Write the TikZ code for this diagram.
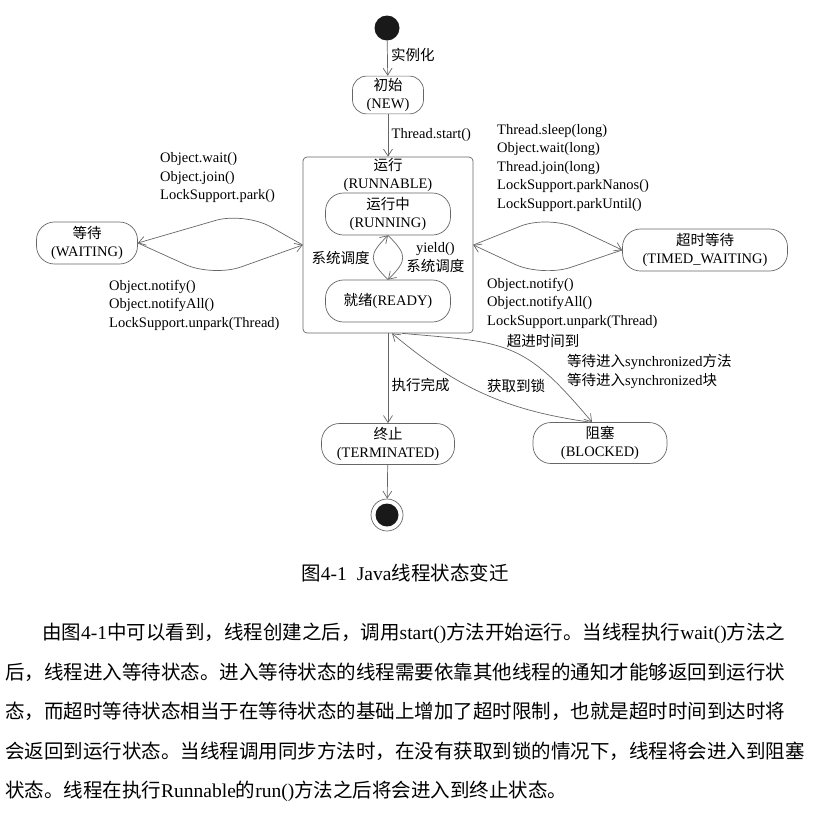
\documentclass[tikz,border=0pt]{standalone}
\usepackage{fontspec}
\setmainfont{Liberation Serif}
\newfontfamily\cjk{Noto Sans CJK SC}
\newcommand\zh[1]{{\cjk #1}}
\newcommand\dfont{\fontsize{14.5}{18.5}\selectfont}
\newcommand\pline{\XeTeXlinebreaklocale "zh"\XeTeXlinebreakskip=0pt plus 1pt minus 0.3pt\parfillskip=0pt\relax}
\usetikzlibrary{arrows.meta,positioning}

\begin{document}
\begin{tikzpicture}[
	x = 1pt, y = 1pt,
	> = {Straight Barb[length=7pt,width=9pt]},
	line/.style = {draw=black!60, line width=0.7pt},
	every node/.style = {font=\dfont},
	state/.style = {line, rounded corners=18pt, align=center, minimum height=42pt, inner sep=2pt},
	lbl/.style = {align=left, inner sep=0pt},
	para/.style = {anchor=west, inner sep=0pt, font=\fontsize{19.5}{24}\selectfont}
	]
	\useasboundingbox (0,0) rectangle (813,-825);
	% states
	\node[circle, fill=black!90, inner sep=0pt, minimum size=25pt] (init) at (387,-28) {};
	\node[state, minimum width=71pt, minimum height=36pt, rounded corners=14pt] (new) at (388,-95) {\zh{初始}\\(NEW)};
	\node[line, rounded corners=4pt, minimum width=170pt, minimum height=176pt] (run) at (388,-245) {};
	\node[below=0pt of run.north, align=center, inner sep=1pt] (runtitle) {\zh{运行}\\(RUNNABLE)};
	\node[state, minimum width=125pt] (running) at (388,-214) {\zh{运行中}\\(RUNNING)};
	\node[state, minimum width=125pt] (ready) at (388,-301) {\zh{就绪}(READY)};
	\node[state, minimum width=101pt] (waiting) at (87,-243) {\zh{等待}\\(WAITING)};
	\node[state, minimum width=165pt] (timed) at (705,-250) {\zh{超时等待}\\(TIMED\_WAITING)};
	\node[state, minimum width=133pt, minimum height=41pt] (term) at (388,-444) {\zh{终止}\\(TERMINATED)};
	\node[state, minimum width=134pt, minimum height=41pt] (blocked) at (600,-443) {\zh{阻塞}\\(BLOCKED)};
	\node[circle, line, inner sep=0pt, minimum size=32pt] (final) at (387,-515) {};
	\node[circle, fill=black!90, inner sep=0pt, minimum size=23pt] (finaldot) at (final) {};

	% transitions
	\draw[line, ->] (init) -- node[right, pos=.4] (lnew) {\zh{实例化}} (new);
	\draw[line, ->] (new) -- node[right] (lstart) {Thread.start()} (run);
	\draw[line, ->] (ready.north) to[out=135, in=-135, looseness=1.6] node[left] (lsched) {\zh{系统调度}} (running.south);
	\draw[line, ->] (running.south) to[out=-45, in=45, looseness=1.6] node[right, align=center] (lyield) {yield()\\\zh{系统调度}} (ready.north);

	\draw[line, ->, rounded corners=30pt] (run.west) -- ++(-58,33) -- (waiting.east);
	\draw[line, ->, rounded corners=30pt] (waiting.east) -- ++(75,-34) -- (run.west);
	\node[lbl, anchor=west] (lwaitin) at (160,-178) {Object.wait()\\Object.join()\\LockSupport.park()};
	\node[lbl, anchor=west] (lwaitout) at (109,-305) {Object.notify()\\Object.notifyAll()\\LockSupport.unpark(Thread)};

	\draw[line, ->, rounded corners=30pt] (run.east) -- ++(75,30) -- (timed.west);
	\draw[line, ->, rounded corners=30pt] (timed.west) -- ++(-80,-27) -- (run.east);
	\node[lbl, anchor=west] (ltimedin) at (497,-168) {Thread.sleep(long)\\Object.wait(long)\\Thread.join(long)\\LockSupport.parkNanos()\\LockSupport.parkUntil()};
	\node[lbl, anchor=west] (ltimedout) at (487,-303) {Object.notify()\\Object.notifyAll()\\LockSupport.unpark(Thread)};

	\draw[line, ->] (run) -- node[right, pos=.58] (ldone) {\zh{执行完成}} (term);
	\draw[line, ->] (term) -- (final);

	\draw[line, ->] ([xshift=14pt]run.south) to[out=-5, in=130, looseness=1.3] ([xshift=-8pt]blocked.north);
	\draw[line, ->] ([xshift=-10pt]blocked.north) to[out=172, in=-40] ([xshift=4pt]run.south);
	\node (ltimeout) at (543,-341) {\zh{超进时间到}};
	\node[lbl, anchor=west] (lsync) at (567,-371.5) {\zh{等待进入}synchronized\zh{方法}\\\zh{等待进入}synchronized\zh{块}};
	\node (llock) at (516,-386) {\zh{获取到锁}};

	% caption and text
	\node[font=\fontsize{19.5}{22}\selectfont] (caption) at (405,-573) {\zh{图}4-1\hspace{10pt}Java\zh{线程状态变迁}};
	\node[para, text width=748pt] (par1) at (42,-633) {\pline\zh{由图}4-1\zh{中可以看到，线程创建之后，调用}start()\zh{方法开始运行。当线程执行}wait()\zh{方法之}};
	\node[para, text width=788pt] (par2) at (5,-672) {\pline\zh{后，线程进入等待状态。进入等待状态的线程需要依靠其他线程的通知才能够返回到运行状}};
	\node[para, text width=788pt] (par3) at (5,-711) {\pline\zh{态，而超时等待状态相当于在等待状态的基础上增加了超时限制，也就是超时时间到达时将}};
	\node[para, text width=802pt] (par4) at (5,-751) {\pline\zh{会返回到运行状态。当线程调用同步方法时，在没有获取到锁的情况下，线程将会进入到阻塞}};
	\node[para] (par5) at (5,-791) {\zh{状态。线程在执行}Runnable\zh{的}run()\zh{方法之后将会进入到终止状态。}};
\end{tikzpicture}
\end{document}
